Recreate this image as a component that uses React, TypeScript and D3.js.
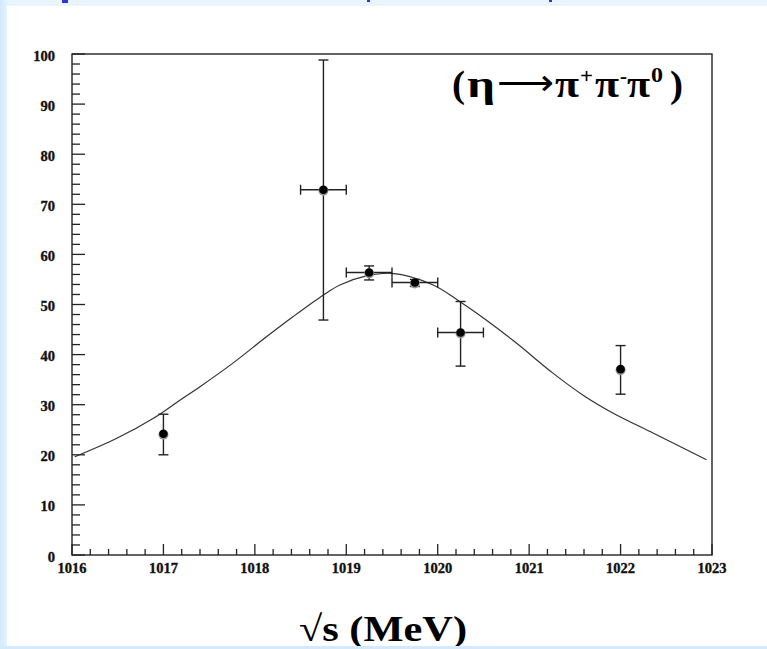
import React from "react";
import * as d3 from "d3";

const W = 767;
const H = 649;

// data points (sqrt(s) in MeV, value, y-error low/high, x half width)
const ptX = [1017.0, 1018.75, 1019.25, 1019.75, 1020.25, 1022.0];
const ptY = [24.2, 72.9, 56.4, 54.4, 44.4, 37.1];
const ptYLo = [20.0, 46.9, 54.9, 53.6, 37.7, 32.1];
const ptYHi = [28.1, 98.8, 57.7, 55.0, 50.6, 41.8];
const ptXErr = [0, 0.25, 0.25, 0.25, 0.25, 0];

// fitted curve
const curveX = [1016.03, 1016.49, 1016.9, 1017.18, 1017.4, 1017.76, 1018.13, 1018.42, 1018.75, 1018.93, 1019.22, 1019.5, 1019.95, 1020.24, 1020.53, 1020.86, 1021.26, 1021.59, 1021.92, 1022.36, 1022.94];
const curveY = [19.6, 23.3, 27.4, 30.9, 33.6, 38.3, 43.6, 47.6, 51.9, 53.9, 55.7, 56.2, 53.9, 50.6, 46.9, 42.3, 36.3, 31.9, 28.3, 24.3, 19.0];

const xMajor = [1016, 1017, 1018, 1019, 1020, 1021, 1022, 1023];
const yMajor = [0, 10, 20, 30, 40, 50, 60, 70, 80, 90, 100];

export default function App() {
  const left = 72, right = 712, top = 54, bottom = 555;
  const x = d3.scaleLinear().domain([1016, 1023]).range([left, right]);
  const y = d3.scaleLinear().domain([0, 100]).range([bottom, top]);

  const xMinor = d3.range(1016, 1023.001, 0.2).filter((v) => Math.abs(v - Math.round(v)) > 0.01);
  const yMinor = d3.range(0, 100.001, 2).filter((v) => v % 10 !== 0);

  const line = d3
    .line<number>()
    .x((_, i) => x(curveX[i]))
    .y((d) => y(d))
    .curve(d3.curveCatmullRom.alpha(0.5));

  const serif = "'Liberation Serif', 'DejaVu Serif', serif";
  const ax = "#222";
  const lb = 97; // legend baseline

  return (
    <svg
      width={W}
      height={H}
      style={{ position: "absolute", left: 0, top: 0, display: "block" }}
      xmlns="http://www.w3.org/2000/svg"
    >
      <defs>
        <linearGradient id="leftg" x1="0" x2="1" y1="0" y2="0">
          <stop offset="0" stopColor="#d3e9fb" />
          <stop offset="1" stopColor="#e6f4fe" />
        </linearGradient>
      </defs>
      <rect x={0} y={0} width={W} height={H} fill="#e8f5fe" />
      <rect x={0} y={0} width={8} height={H} fill="url(#leftg)" />
      <rect x={7} y={6} width={W - 7} height={640} fill="#ffffff" />

      {/* clipped blue title fragments at the very top */}
      <rect x={62} y={0} width={6} height={3} fill="#3333dd" />
      <rect x={367} y={0} width={3} height={2} fill="#3333dd" />
      <rect x={549} y={0} width={3} height={2} fill="#3333dd" />

      {/* frame */}
      <rect x={left} y={top} width={right - left} height={bottom - top} fill="none" stroke={ax} strokeWidth={1.4} />

      {/* x ticks */}
      {xMajor.map((v) => (
        <line key={"xm" + v} x1={x(v)} x2={x(v)} y1={bottom} y2={bottom - 11} stroke={ax} strokeWidth={1.3} />
      ))}
      {xMinor.map((v, i) => (
        <line key={"xn" + i} x1={x(v)} x2={x(v)} y1={bottom} y2={bottom - 6} stroke={ax} strokeWidth={1.3} />
      ))}
      {xMajor.map((v) => (
        <text key={"xl" + v} x={x(v)} y={573} textAnchor="middle" fontFamily={serif} fontWeight="bold" fontSize={14.5} fill="#111" stroke="#111" strokeWidth={0.35}>
          {v}
        </text>
      ))}

      {/* y ticks */}
      {yMajor.map((v) => (
        <line key={"ym" + v} x1={left} x2={left + 13} y1={y(v)} y2={y(v)} stroke={ax} strokeWidth={1.3} />
      ))}
      {yMinor.map((v) => (
        <line key={"yn" + v} x1={left} x2={left + 8} y1={y(v)} y2={y(v)} stroke={ax} strokeWidth={1.3} />
      ))}
      {yMajor.map((v) => (
        <text key={"yl" + v} x={55} y={y(v) + 6.5} textAnchor="end" fontFamily={serif} fontWeight="bold" fontSize={14.5} fill="#111" stroke="#111" strokeWidth={0.35}>
          {v}
        </text>
      ))}

      {/* curve */}
      <path d={line(curveY) || ""} fill="none" stroke="#333" strokeWidth={1.2} />

      {/* data points */}
      {ptX.map((v, i) => {
        const cx = x(v);
        const cy = y(ptY[i]);
        const yl = y(ptYLo[i]);
        const yh = y(ptYHi[i]);
        const xl = x(v - ptXErr[i]);
        const xh = x(v + ptXErr[i]);
        return (
          <g key={"p" + i} stroke="#222" strokeWidth={1.4}>
            <line x1={cx} x2={cx} y1={yl} y2={yh} />
            <line x1={cx - 5} x2={cx + 5} y1={yl} y2={yl} />
            <line x1={cx - 5} x2={cx + 5} y1={yh} y2={yh} />
            {ptXErr[i] > 0 && (
              <>
                <line x1={xl} x2={xh} y1={cy} y2={cy} />
                <line x1={xl} x2={xl} y1={cy - 5} y2={cy + 5} />
                <line x1={xh} x2={xh} y1={cy - 5} y2={cy + 5} />
              </>
            )}
            <circle cx={cx} cy={cy + 1} r={5} fill="#999" stroke="none" />
            <circle cx={cx} cy={cy} r={4.3} fill="#000" stroke="none" />
          </g>
        );
      })}

      {/* legend label */}
      <g fontFamily={serif} fontWeight="bold" fill="#000">
        <text x={452} y={lb} fontSize={38} textLength={13} lengthAdjust="spacingAndGlyphs">(</text>
        <text x={467} y={lb} fontSize={38} textLength={28} lengthAdjust="spacingAndGlyphs">η</text>
        <text x={497} y={lb - 2} fontSize={36} fontFamily="'DejaVu Sans', sans-serif" fontWeight="normal" textLength={57} lengthAdjust="spacingAndGlyphs">⟶</text>
        <text x={555} y={lb} fontSize={38} textLength={24} lengthAdjust="spacingAndGlyphs">π</text>
        <text x={580} y={lb - 14} fontSize={22} textLength={13} lengthAdjust="spacingAndGlyphs">+</text>
        <text x={595} y={lb} fontSize={38} textLength={24} lengthAdjust="spacingAndGlyphs">π</text>
        <text x={620} y={lb - 14} fontSize={22} textLength={7} lengthAdjust="spacingAndGlyphs">-</text>
        <text x={627} y={lb} fontSize={38} textLength={23} lengthAdjust="spacingAndGlyphs">π</text>
        <text x={651} y={lb - 15} fontSize={22} textLength={12} lengthAdjust="spacingAndGlyphs">0</text>
        <text x={670} y={lb} fontSize={38} textLength={13} lengthAdjust="spacingAndGlyphs">)</text>
      </g>

      {/* x axis title */}
      <text x={299} y={641} fontFamily={serif} fontWeight="bold" fontSize={36} fill="#000" textLength={168} lengthAdjust="spacingAndGlyphs">
        √s (MeV)
      </text>
      <rect x={0} y={646} width={W} height={3} fill="#d4eafc" />
    </svg>
  );
}
